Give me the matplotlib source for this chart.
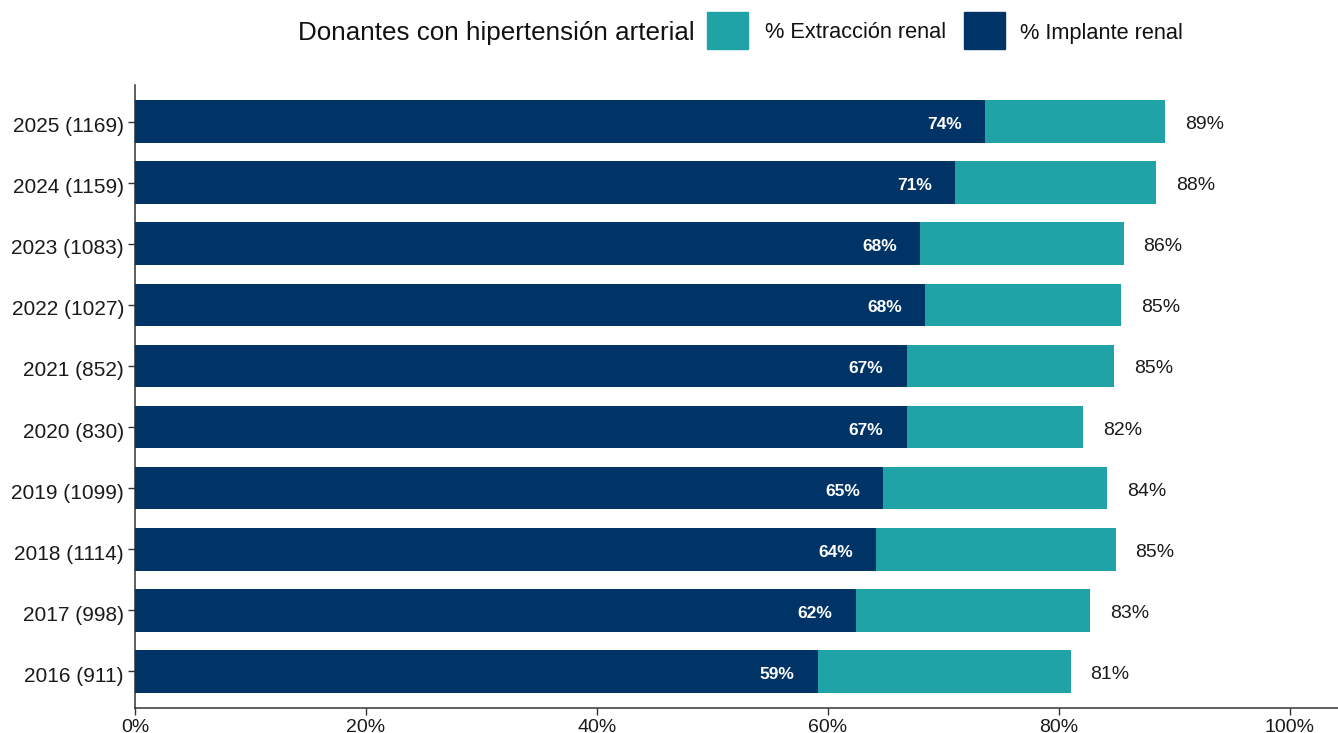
import matplotlib
matplotlib.use("Agg")
import matplotlib.pyplot as plt
from matplotlib.patches import Rectangle
from matplotlib.transforms import ScaledTranslation

years = [2016, 2017, 2018, 2019, 2020, 2021, 2022, 2023, 2024, 2025]
donors = [911, 998, 1114, 1099, 830, 852, 1027, 1083, 1159, 1169]
extraccion = [81.0, 82.7, 84.9, 84.2, 82.1, 84.8, 85.4, 85.6, 88.4, 89.2]
implante = [59.1, 62.4, 64.2, 64.8, 66.8, 66.8, 68.4, 68.0, 71.0, 73.6]
xticks = [0, 20, 40, 60, 80, 100]

TEAL = "#20A3A6"
NAVY = "#003466"
plt.rcParams['font.family'] = ['Liberation Sans', 'DejaVu Sans']

W, H = 1338, 733
fig = plt.figure(figsize=(W / 100, H / 100), dpi=100)
ax = fig.add_axes([135 / W, 1 - 708 / H, 1 - 135 / W, (708 - 85) / H])

down = ScaledTranslation(0, -3 / 100, fig.dpi_scale_trans)

ypos = list(range(len(years)))
ax.barh(ypos, extraccion, height=0.7, color=TEAL, zorder=2)
ax.barh(ypos, implante, height=0.7, color=NAVY, zorder=3)

for y, e, i in zip(ypos, extraccion, implante):
    ax.text(i - 3.5, y, f"{round(i)}%", ha="center", va="center", color="white",
            fontsize=12.5, fontweight="bold", zorder=4, transform=ax.transData + down)
    ax.text(e + 3.4, y, f"{round(e)}%", ha="center", va="center", color="#1a1a1a",
            fontsize=14, zorder=4, transform=ax.transData + down)

ax.set_xlim(0, 104.16)
ax.set_ylim(-0.6, 9.6)
ax.set_yticks(ypos)
ax.set_yticklabels([f"{yr} ({n})" for yr, n in zip(years, donors)], fontsize=15, color="#1a1a1a")
ax.set_xticks(xticks)
ax.set_xticklabels([f"{t}%" for t in xticks], fontsize=14, color="#1a1a1a")
ax.tick_params(axis="both", length=5, width=1, color="#333333", pad=3)
for lab in ax.get_yticklabels():
    lab.set_transform(lab.get_transform() + down)
for s in ["top", "right"]:
    ax.spines[s].set_visible(False)
for s in ["left", "bottom"]:
    ax.spines[s].set_color("#333333")
    ax.spines[s].set_linewidth(1.1)

# legend (manual, horizontal with title on the left)
ycen = 1 - 33 / H
fig.text(298 / W, ycen, "Donantes con hipertensión arterial", fontsize=18.7,
         ha="left", va="center", color="#111111")
fig.patches.append(Rectangle((707 / W, 1 - 49 / H), 41 / W, 37 / H,
                             transform=fig.transFigure, color=TEAL))
fig.text(765 / W, ycen, "% Extracción renal", fontsize=15.7, ha="left", va="center", color="#111111")
fig.patches.append(Rectangle((964 / W, 1 - 49 / H), 41 / W, 37 / H,
                             transform=fig.transFigure, color=NAVY))
fig.text(1020 / W, ycen, "% Implante renal", fontsize=15.7, ha="left", va="center", color="#111111")

fig.savefig("out.png", dpi=100)
